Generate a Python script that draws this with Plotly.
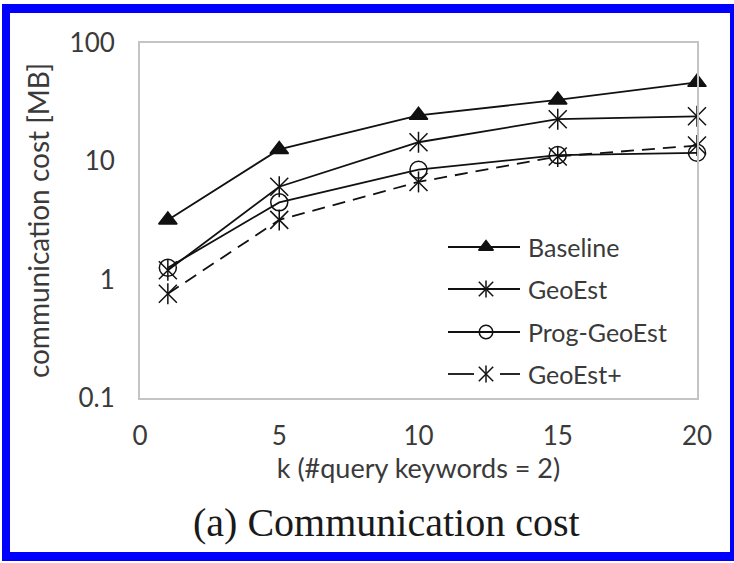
import plotly.graph_objects as go

# k values and communication cost (MB) per method
k_values = [1, 5, 10, 15, 20]
baseline = [3.2, 12.6, 24.5, 33.0, 46.5]
geoest = [1.2, 6.1, 14.5, 22.7, 24.0]
prog_geoest = [1.26, 4.5, 8.5, 11.3, 11.8]
geoest_plus = [0.76, 3.2, 6.7, 11.0, 13.6]

x_ticks = [0, 5, 10, 15, 20]
y_ticks = [0.1, 1, 10, 100]
y_tick_text = ["0.1", "1", "10", "100"]

W, H = 734, 563
ML, MR, MT, MB = 140, 37, 43, 165
PW, PH = W - ML - MR, H - MT - MB

INK = "#111111"
TXT = "#3a3a3a"
FONT = "Lato, 'Open Sans', sans-serif"


def px_x(px):
    return (px - ML) / PW


def px_y(py):
    return (H - MB - py) / PH


fig = go.Figure()

LW = 1.8


def add_series(y, symbol_traces, dash="solid"):
    fig.add_trace(go.Scatter(
        x=k_values, y=y, mode="lines", cliponaxis=False,
        line=dict(color=INK, width=LW, dash=dash),
        showlegend=False, hoverinfo="skip"))
    for sym, size in symbol_traces:
        fig.add_trace(go.Scatter(
            x=k_values, y=y, mode="markers", cliponaxis=False,
            marker=dict(symbol=sym, size=size, color=INK,
                        line=dict(color=INK, width=1.5)),
            showlegend=False, hoverinfo="skip"))


TRI = [("triangle-up", 16)]
STAR = [("x-thin-open", 18), ("line-ns-open", 15)]
CIRC = [("circle-open", 17)]
DASH = "13px,8px"

add_series(baseline, TRI)
add_series(geoest, STAR)
add_series(prog_geoest, CIRC)
add_series(geoest_plus, STAR, dash=DASH)

# Legend drawn on an overlay axis spanning the plot area in [0, 1]
legend_rows = [
    ("Baseline", TRI, False, 247),
    ("GeoEst", STAR, False, 289),
    ("Prog-GeoEst", CIRC, False, 332),
    ("GeoEst+", STAR, True, 374),
]
x0, xm, x1 = px_x(448), px_x(486), px_x(520)
for name, syms, dashed, py in legend_rows:
    yy = px_y(py)
    if dashed:
        lx = [x0, px_x(474), None, px_x(500), x1]
        ly = [yy, yy, None, yy, yy]
    else:
        lx = [x0, x1]
        ly = [yy, yy]
    fig.add_trace(go.Scatter(
        x=lx, y=ly, mode="lines", xaxis="x2", yaxis="y2",
        line=dict(color=INK, width=LW), showlegend=False, hoverinfo="skip"))
    for sym, size in syms:
        fig.add_trace(go.Scatter(
            x=[xm], y=[yy], mode="markers", xaxis="x2", yaxis="y2",
            marker=dict(symbol=sym, size=size * 0.8, color=INK,
                        line=dict(color=INK, width=1.5)),
            showlegend=False, hoverinfo="skip"))
    fig.add_annotation(
        x=px_x(526), y=yy, xref="x2", yref="y2", text=name,
        showarrow=False, xanchor="left", yanchor="middle",
        font=dict(family=FONT, size=25, color=TXT))

# Caption under the chart
fig.add_annotation(
    x=px_x(386), y=px_y(522), xref="paper", yref="paper",
    text="(a) Communication cost", showarrow=False,
    xanchor="center", yanchor="middle",
    font=dict(family="'Liberation Serif', 'Times New Roman', serif",
              size=40, color="#1a1a1a"))

# Blue frame around the whole figure
BLUE = "#0000ff"
frame = [
    (px_x(2), px_y(4), px_x(10), px_y(561)),
    (px_x(2), px_y(4), px_x(734), px_y(13)),
    (px_x(730), px_y(4), px_x(734), px_y(561)),
    (px_x(2), px_y(552), px_x(734), px_y(561)),
]
for a, b, c, d in frame:
    fig.add_shape(type="rect", xref="paper", yref="paper",
                  x0=a, y0=b, x1=c, y1=d,
                  fillcolor=BLUE, line=dict(width=0), layer="above")

fig.update_layout(
    width=W, height=H,
    margin=dict(l=ML, r=MR, t=MT, b=MB),
    paper_bgcolor="white", plot_bgcolor="white",
    showlegend=False,
    font=dict(family=FONT, size=26, color=TXT),
    xaxis=dict(
        range=[0, 20], tickvals=x_ticks, ticks="", showgrid=False,
        zeroline=False, showline=True, mirror=True,
        linecolor="#c4c4c4", linewidth=2, ticklabelstandoff=14,
        tickfont=dict(family=FONT, size=26, color=TXT),
        title=dict(text="k (#query keywords = 2)", standoff=4,
                   font=dict(family=FONT, size=27, color=TXT))),
    yaxis=dict(
        type="log", range=[-1, 2], tickvals=y_ticks, ticktext=y_tick_text,
        ticks="", showgrid=False, zeroline=False, showline=True,
        mirror=True, linecolor="#c4c4c4", linewidth=2, ticklabelstandoff=18,
        tickfont=dict(family=FONT, size=26, color=TXT),
        title=dict(text="communication cost [MB]", standoff=12,
                   font=dict(family=FONT, size=28, color=TXT))),
    xaxis2=dict(domain=[0, 1], range=[0, 1], overlaying="x",
                visible=False, fixedrange=True),
    yaxis2=dict(domain=[0, 1], range=[0, 1], overlaying="y",
                visible=False, fixedrange=True),
)

fig.write_html("out.html")
